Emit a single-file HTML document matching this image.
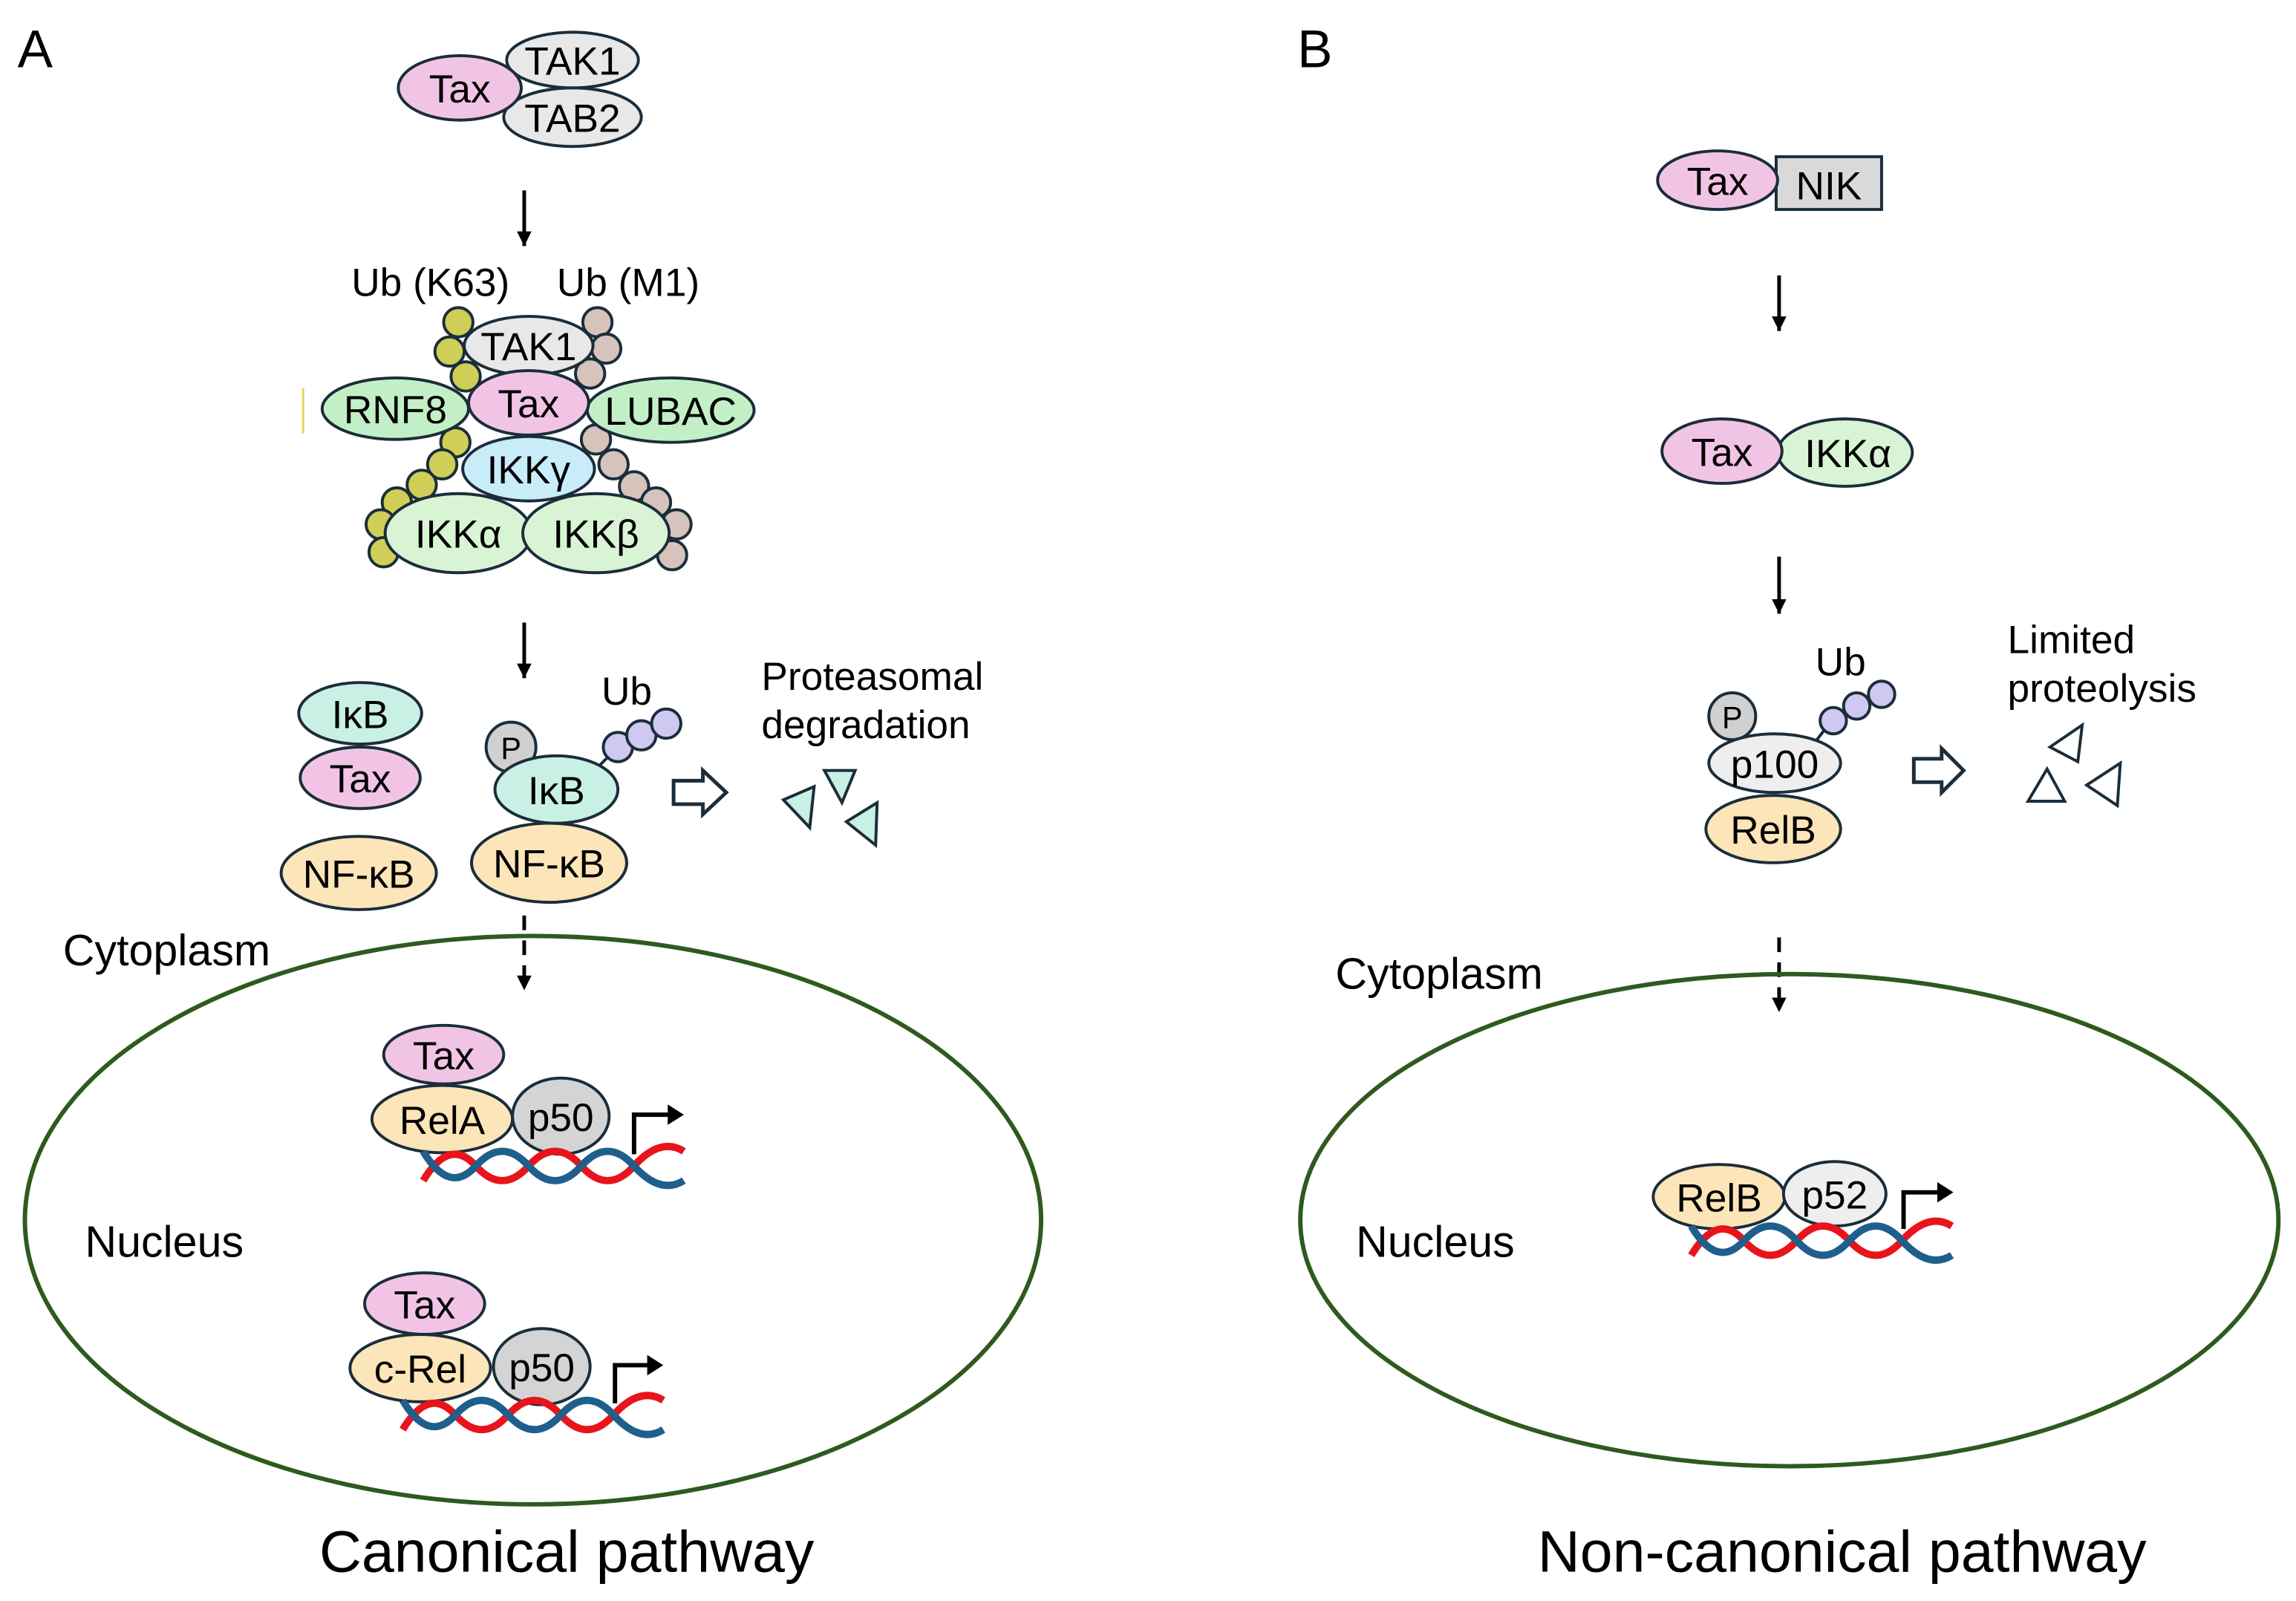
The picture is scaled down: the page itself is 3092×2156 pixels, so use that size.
<!DOCTYPE html>
<html><head><meta charset="utf-8"><style>
html,body{margin:0;padding:0;background:#fff}
svg{display:block}
text{font-family:"Liberation Sans",sans-serif;fill:#000}
</style></head><body>
<svg width="3092" height="2156" viewBox="0 0 1568 1093" preserveAspectRatio="none" xmlns="http://www.w3.org/2000/svg">
<defs>
<marker id="ah" markerWidth="12" markerHeight="12" refX="10" refY="5" orient="auto" markerUnits="userSpaceOnUse"><path d="M0,0 L10,5 L0,10 Z" fill="#000"/></marker>
</defs>
<text x="12" y="46" font-size="36">A</text>
<text x="886" y="46" font-size="36">B</text>

<!-- ===== Panel A ===== -->
<g stroke="#1b2d3a" stroke-width="2">
<ellipse cx="391" cy="41" rx="45" ry="19" fill="#e8e8e8"/>
<ellipse cx="391" cy="80" rx="47" ry="20" fill="#e8e8e8"/>
<ellipse cx="314" cy="60" rx="42" ry="22" fill="#f1c4e6"/>
</g>
<g font-size="27" text-anchor="middle">
<text x="391" y="51">TAK1</text><text x="391" y="90">TAB2</text><text x="314" y="70">Tax</text>
</g>
<line x1="358" y1="130" x2="358" y2="168" stroke="#000" stroke-width="2.5" marker-end="url(#ah)"/>
<text x="294" y="202" font-size="27" text-anchor="middle">Ub (K63)</text>
<text x="429" y="202" font-size="27" text-anchor="middle">Ub (M1)</text>

<g stroke="#1b2d3a" stroke-width="2">
<g fill="#cfcf57">
<circle cx="313" cy="220" r="10"/><circle cx="307" cy="240" r="10"/><circle cx="318" cy="257" r="10"/>
<circle cx="311" cy="302" r="10"/><circle cx="302" cy="317" r="10"/><circle cx="288" cy="331" r="10"/>
<circle cx="271" cy="343" r="10"/><circle cx="260" cy="358" r="10"/><circle cx="262" cy="377" r="10"/>
</g>
<g fill="#d6c3bb">
<circle cx="408" cy="220" r="10"/><circle cx="414" cy="238" r="10"/><circle cx="403" cy="255" r="10"/>
<circle cx="407" cy="300" r="10"/><circle cx="419" cy="317" r="10"/><circle cx="433" cy="332" r="10"/>
<circle cx="448" cy="343" r="10"/><circle cx="462" cy="358" r="10"/><circle cx="459" cy="379" r="10"/>
</g>
<ellipse cx="361" cy="236" rx="44" ry="20" fill="#e8e8e8"/>
<ellipse cx="270" cy="279" rx="50" ry="21" fill="#c3efc6"/>
<ellipse cx="458" cy="280" rx="57" ry="22" fill="#c3efc6"/>
<ellipse cx="361" cy="275" rx="41" ry="22" fill="#f1c4e6"/>
<ellipse cx="361" cy="320" rx="45" ry="22" fill="#c9ecf9"/>
<ellipse cx="313" cy="364" rx="50" ry="27" fill="#d8f4d4"/>
<ellipse cx="407" cy="364" rx="50" ry="27" fill="#d8f4d4"/>
</g>
<line x1="207" y1="265" x2="207" y2="296" stroke="#e0d850" stroke-width="1.5"/>
<g font-size="27" text-anchor="middle">
<text x="361" y="246">TAK1</text><text x="270" y="289">RNF8</text><text x="458" y="290">LUBAC</text>
<text x="361" y="285">Tax</text><text x="361" y="330">IKKγ</text><text x="313" y="374">IKKα</text><text x="407" y="374">IKKβ</text>
</g>

<line x1="358" y1="425" x2="358" y2="463" stroke="#000" stroke-width="2.5" marker-end="url(#ah)"/>

<g stroke="#1b2d3a" stroke-width="2">
<ellipse cx="246" cy="487" rx="42" ry="21" fill="#c9f0e4"/>
<ellipse cx="246" cy="531" rx="41" ry="21" fill="#f1c4e6"/>
<ellipse cx="245" cy="596" rx="53" ry="25" fill="#fce5b8"/>
<circle cx="349" cy="510" r="17" fill="#d0d0d0"/>
<line x1="410" y1="522" x2="420" y2="512"/>
<circle cx="422" cy="510" r="10" fill="#d0c8f0"/>
<circle cx="438" cy="502" r="10" fill="#d0c8f0"/>
<circle cx="455" cy="494" r="10" fill="#d0c8f0"/>
<ellipse cx="375" cy="589" rx="53" ry="27" fill="#fce5b8"/>
<ellipse cx="380" cy="539" rx="42" ry="23" fill="#c9f0e4"/>
<path d="M460,533 L480,533 L480,526 L496,541 L480,556 L480,549 L460,549 Z" fill="#fff" stroke-width="2.5"/>
<path d="M563,526 L584,526 L575,548 Z" fill="#c9f0e4"/>
<path d="M535,546 L556,537 L553,565 Z" fill="#c9f0e4"/>
<path d="M578,561 L599,548 L598,577 Z" fill="#c9f0e4"/>
</g>
<g font-size="27" text-anchor="middle">
<text x="246" y="497">IκB</text><text x="246" y="541">Tax</text><text x="245" y="606">NF-κB</text>
<text x="380" y="549">IκB</text><text x="375" y="599">NF-κB</text>
</g>
<text x="349" y="518" font-size="21" text-anchor="middle">P</text>
<text x="428" y="481" font-size="27" text-anchor="middle">Ub</text>
<text x="520" y="471" font-size="27">Proteasomal</text>
<text x="520" y="504" font-size="27">degradation</text>

<line x1="358" y1="625" x2="358" y2="676" stroke="#000" stroke-width="2.5" stroke-dasharray="10,7" marker-end="url(#ah)"/>
<text x="43" y="659" font-size="30">Cytoplasm</text>
<ellipse cx="364" cy="833" rx="347" ry="194" fill="none" stroke="#2e5a1e" stroke-width="3"/>
<text x="58" y="858" font-size="30">Nucleus</text>

<!-- RelA complex -->
<g stroke="#1b2d3a" stroke-width="2">
<ellipse cx="303" cy="720" rx="41" ry="20" fill="#f1c4e6"/>
<ellipse cx="302" cy="764" rx="48" ry="23" fill="#fce5b8"/>
<ellipse cx="383" cy="762" rx="33" ry="26" fill="#d4d4d4"/>
</g>
<g font-size="27" text-anchor="middle">
<text x="303" y="730">Tax</text><text x="302" y="774">RelA</text><text x="383" y="772">p50</text>
</g>
<path d="M289,806 Q307,776 325,796 T361,796 T397,796 T433,796 T467,786" fill="none" stroke="#e8141c" stroke-width="5"/>
<path d="M289,786 Q307,816 325,796 T361,796 T397,796 T433,796 T467,806" fill="none" stroke="#1f5f8b" stroke-width="5"/>
<path d="M433,788 L433,761 L458,761" fill="none" stroke="#000" stroke-width="3"/>
<path d="M456,754 L467,761 L456,768 Z" fill="#000"/>

<!-- c-Rel complex -->
<g stroke="#1b2d3a" stroke-width="2">
<ellipse cx="290" cy="890" rx="41" ry="21" fill="#f1c4e6"/>
<ellipse cx="287" cy="934" rx="48" ry="23" fill="#fce5b8"/>
<ellipse cx="370" cy="933" rx="33" ry="26" fill="#d4d4d4"/>
</g>
<g font-size="27" text-anchor="middle">
<text x="290" y="900">Tax</text><text x="287" y="944">c-Rel</text><text x="370" y="943">p50</text>
</g>
<path d="M275,976 Q293,946 311,966 T347,966 T383,966 T419,966 T453,956" fill="none" stroke="#e8141c" stroke-width="5"/>
<path d="M275,956 Q293,986 311,966 T347,966 T383,966 T419,966 T453,976" fill="none" stroke="#1f5f8b" stroke-width="5"/>
<path d="M420,958 L420,932 L444,932" fill="none" stroke="#000" stroke-width="3"/>
<path d="M442,925 L453,932 L442,939 Z" fill="#000"/>

<text x="387" y="1073" font-size="40" text-anchor="middle">Canonical pathway</text>

<!-- ===== Panel B ===== -->
<g stroke="#1b2d3a" stroke-width="2">
<rect x="1213" y="107" width="72" height="36" fill="#d9d9d9"/>
<ellipse cx="1173" cy="123" rx="41" ry="20" fill="#f1c4e6"/>
</g>
<text x="1173" y="133" font-size="27" text-anchor="middle">Tax</text>
<text x="1249" y="136" font-size="27" text-anchor="middle">NIK</text>
<line x1="1215" y1="188" x2="1215" y2="226" stroke="#000" stroke-width="2.5" marker-end="url(#ah)"/>
<g stroke="#1b2d3a" stroke-width="2">
<ellipse cx="1260" cy="309" rx="46" ry="23" fill="#d8f4d4"/>
<ellipse cx="1176" cy="308" rx="41" ry="22" fill="#f1c4e6"/>
</g>
<text x="1176" y="318" font-size="27" text-anchor="middle">Tax</text>
<text x="1262" y="319" font-size="27" text-anchor="middle">IKKα</text>
<line x1="1215" y1="380" x2="1215" y2="419" stroke="#000" stroke-width="2.5" marker-end="url(#ah)"/>

<g stroke="#1b2d3a" stroke-width="2">
<circle cx="1183" cy="489" r="16" fill="#d0d0d0"/>
<line x1="1240" y1="506" x2="1247" y2="497"/>
<circle cx="1252" cy="492" r="9" fill="#d0c8f0"/>
<circle cx="1268" cy="482" r="9" fill="#d0c8f0"/>
<circle cx="1285" cy="474" r="9" fill="#d0c8f0"/>
<ellipse cx="1211" cy="566" rx="46" ry="23" fill="#fce5b8"/>
<ellipse cx="1212" cy="521" rx="45" ry="20" fill="#eeeeee"/>
<path d="M1307,518 L1326,518 L1326,511 L1341,526 L1326,541 L1326,534 L1307,534 Z" fill="#fff" stroke-width="2.5"/>
<path d="M1400,510 L1422,495 L1419,520 Z" fill="#fff"/>
<path d="M1385,547 L1410,547 L1398,525 Z" fill="#fff"/>
<path d="M1425,536 L1448,521 L1446,550 Z" fill="#fff"/>
</g>
<text x="1183" y="497" font-size="21" text-anchor="middle">P</text>
<text x="1212" y="531" font-size="27" text-anchor="middle">p100</text>
<text x="1211" y="576" font-size="27" text-anchor="middle">RelB</text>
<text x="1257" y="461" font-size="27" text-anchor="middle">Ub</text>
<text x="1371" y="446" font-size="27">Limited</text>
<text x="1371" y="479" font-size="27">proteolysis</text>

<line x1="1215" y1="640" x2="1215" y2="691" stroke="#000" stroke-width="2.5" stroke-dasharray="10,7" marker-end="url(#ah)"/>
<text x="912" y="675" font-size="30">Cytoplasm</text>
<ellipse cx="1222" cy="833" rx="334" ry="168" fill="none" stroke="#2e5a1e" stroke-width="3"/>
<text x="926" y="858" font-size="30">Nucleus</text>

<g stroke="#1b2d3a" stroke-width="2">
<ellipse cx="1174" cy="817" rx="45" ry="22" fill="#fce5b8"/>
<ellipse cx="1253" cy="815" rx="35" ry="22" fill="#eeeeee"/>
</g>
<text x="1174" y="827" font-size="27" text-anchor="middle">RelB</text>
<text x="1253" y="825" font-size="27" text-anchor="middle">p52</text>
<path d="M1155,857 Q1173,827 1191,847 T1227,847 T1263,847 T1299,847 T1333,837" fill="none" stroke="#e8141c" stroke-width="5"/>
<path d="M1155,837 Q1173,867 1191,847 T1227,847 T1263,847 T1299,847 T1333,857" fill="none" stroke="#1f5f8b" stroke-width="5"/>
<path d="M1300,839 L1300,814 L1325,814" fill="none" stroke="#000" stroke-width="3"/>
<path d="M1323,807 L1334,814 L1323,821 Z" fill="#000"/>

<text x="1258" y="1073" font-size="40" text-anchor="middle">Non-canonical pathway</text>
</svg>
</body></html>
